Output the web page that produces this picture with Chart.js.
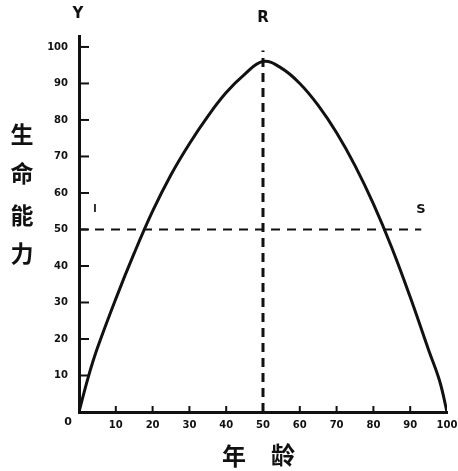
<!DOCTYPE html>
<html lang="zh">
<head>
<meta charset="UTF-8">
<title>生命能力</title>
<style>
  html, body { margin: 0; padding: 0; background: #fff; }
  #wrap { width: 458px; height: 471px; }
</style>
<script src="https://cdn.jsdelivr.net/npm/chart.js"></script>
</head>
<body>
<div id="wrap"><canvas id="chart" width="458" height="471"></canvas></div>
<script>
// data
const ages = [0, 2.5, 5, 10, 15, 20, 25, 30, 35, 40, 45, 50, 55, 60, 65, 70, 75, 80, 85, 90, 95, 98, 100];
const vitality = [0, 9.5, 17.5, 31, 43.5, 55, 65, 73.5, 81, 87.5, 92.5, 96, 94.2, 90, 84, 76.5, 67.5, 57, 45, 31.5, 17, 8.5, 0];
const xTicks = [10, 20, 30, 40, 50, 60, 70, 80, 90, 100];
const yTicks = [10, 20, 30, 40, 50, 60, 70, 80, 90, 100];
const hLineX = [0, 93];     // T ... S at level 50
const hLineY = [50, 50];
const vLineX = [50, 50];    // R at age 50
const vLineY = [0, 99];
const yTitle = ['生', '命', '能', '力'];
const xTitle = ['年', '龄'];

const ink = '#111';
const tickFont = { family: 'DejaVu Sans', size: 10, weight: 'bold' };

const decor = {
  id: 'decor',
  afterDraw(chart) {
    const ctx = chart.ctx;
    const x = chart.scales.x, y = chart.scales.y;
    ctx.save();
    ctx.strokeStyle = ink;
    ctx.lineWidth = 2;
    // inward ticks
    yTicks.forEach(v => {
      const py = y.getPixelForValue(v);
      ctx.beginPath(); ctx.moveTo(x.left, py); ctx.lineTo(x.left + 10, py); ctx.stroke();
    });
    xTicks.slice(0, -1).forEach(v => {
      const px = x.getPixelForValue(v);
      ctx.beginPath(); ctx.moveTo(px, y.bottom); ctx.lineTo(px, y.bottom - 6); ctx.stroke();
    });
    ctx.fillStyle = ink;
    ctx.textAlign = 'center';
    ctx.textBaseline = 'middle';
    // x tick labels
    ctx.font = 'bold 10px "DejaVu Sans"';
    xTicks.forEach(v => ctx.fillText(String(v), x.getPixelForValue(v), y.bottom + 13));
    ctx.font = 'bold 15px "DejaVu Sans"';
    ctx.fillText('Y', x.left - 1, 14);
    ctx.fillText('R', x.getPixelForValue(50), 18);
    ctx.font = 'bold 13px "DejaVu Sans"';
    ctx.fillText('S', 421, 210);
    ctx.font = 'bold 10px "DejaVu Sans"';
    ctx.fillText('l', 95, 209);
    ctx.font = 'bold 11px "DejaVu Sans"';
    ctx.fillText('0', 68, 422);
    ctx.font = 'bold 23px "Noto Sans CJK SC"';
    [134, 173, 215, 253].forEach((py, i) => ctx.fillText(yTitle[i], 22, py));
    ctx.font = 'bold 24px "Noto Sans CJK SC"';
    ctx.fillText(xTitle[0], 234, 456);
    ctx.fillText(xTitle[1], 283, 455);
    ctx.restore();
  }
};

new Chart(document.getElementById('chart'), {
  type: 'line',
  data: {
    datasets: [
      {
        data: ages.map((a, i) => ({ x: a, y: vitality[i] })),
        borderColor: ink,
        borderWidth: 3,
        pointRadius: 0,
        tension: 0.4
      },
      {
        data: hLineX.map((a, i) => ({ x: a, y: hLineY[i] })),
        borderColor: ink,
        borderWidth: 2,
        borderDash: [9, 7],
        pointRadius: 0
      },
      {
        data: vLineX.map((a, i) => ({ x: a, y: vLineY[i] })),
        borderColor: ink,
        borderWidth: 3,
        borderDash: [9, 6],
        pointRadius: 0
      }
    ]
  },
  options: {
    responsive: false,
    animation: false,
    layout: { padding: { top: 36, right: 11, left: 0, bottom: 0 } },
    plugins: { legend: { display: false }, tooltip: { enabled: false } },
    scales: {
      x: {
        type: 'linear',
        min: 0,
        max: 100,
        grid: { display: false, drawTicks: false },
        border: { color: ink, width: 3 },
        afterBuildTicks: s => { s.ticks = xTicks.map(v => ({ value: v })); },
        afterFit: s => { s.height = 59; },
        ticks: { display: false }
      },
      y: {
        type: 'linear',
        min: 0,
        max: 103,
        grid: { display: false, drawTicks: false },
        border: { color: ink, width: 3 },
        afterBuildTicks: s => { s.ticks = yTicks.map(v => ({ value: v })); },
        afterFit: s => { s.width = 79; },
        ticks: { color: ink, font: tickFont, padding: 11 }
      }
    }
  },
  plugins: [decor]
});
</script>
</body>
</html>
